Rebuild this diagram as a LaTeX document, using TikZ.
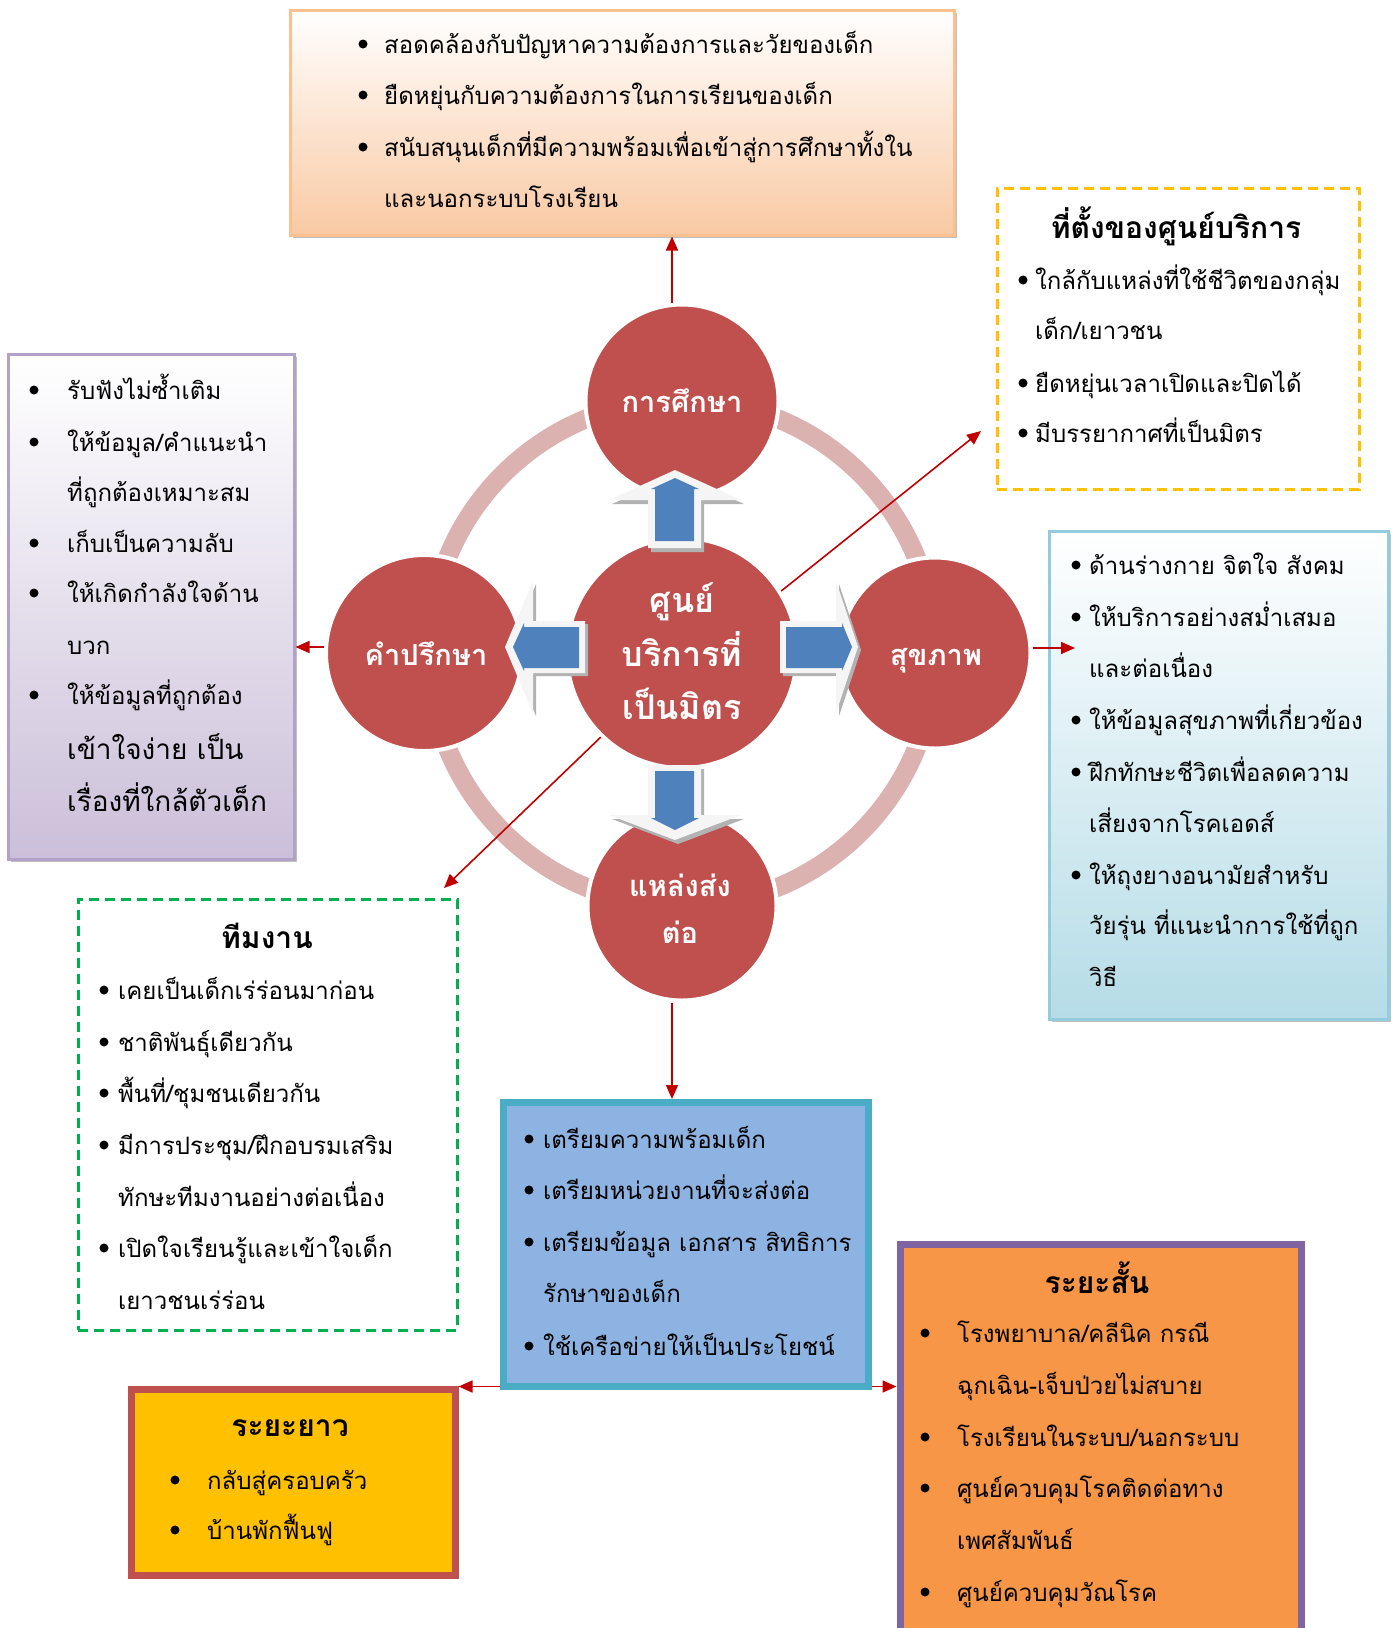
\documentclass[tikz,border=0pt]{standalone}
\usepackage{fontspec}
\newfontfamily\thai[Script=Thai]{Loma}
\usetikzlibrary{arrows.meta}
\definecolor{cred}{HTML}{C0504D}
\definecolor{ringc}{HTML}{DCB2B1}
\definecolor{barrow}{HTML}{4F81BD}
\definecolor{darr}{HTML}{C00000}
\definecolor{peach}{HTML}{F9C9A3}
\definecolor{peachb}{HTML}{FAC090}
\definecolor{lav}{HTML}{CBBFD9}
\definecolor{lavb}{HTML}{B3A2C7}
\definecolor{aqua}{HTML}{B5DCE7}
\definecolor{aquab}{HTML}{93CDDD}
\definecolor{gold}{HTML}{FFC000}
\definecolor{grn}{HTML}{00B050}
\definecolor{bfill}{HTML}{8DB3E2}
\definecolor{bbord}{HTML}{4BACC6}
\definecolor{ofill}{HTML}{F79646}
\definecolor{obord}{HTML}{8064A2}
\newcommand\bdot[2]{\fill (#1,#2) circle (4.5pt);}
\begin{document}
\begin{tikzpicture}[x=1pt,y=-1pt,
  txt/.style={font=\thai\fontsize{24}{28}\selectfont, anchor=base west, inner sep=0pt, text height=17pt, text depth=5pt},
  bigtxt/.style={font=\thai\fontsize{28}{32}\selectfont, anchor=base west, inner sep=0pt, text height=20pt, text depth=6pt},
  ttl/.style={font=\thai\bfseries\fontsize{30}{34}\selectfont, anchor=base, inner sep=0pt, text height=21pt, text depth=4pt},
  ctxt/.style={font=\thai\bfseries\fontsize{29}{33}\selectfont, text=white, anchor=base, inner sep=0pt, text height=20pt, text depth=4pt},
  bigc/.style={font=\thai\bfseries\fontsize{34}{38}\selectfont, text=white, anchor=base, inner sep=0pt, text height=24pt, text depth=6pt},
  circ/.style={circle, fill=cred, draw=white, line width=4pt, inner sep=0pt},
  boxn/.style={rectangle, anchor=north west, inner sep=0pt},
  redarr/.style={draw=darr, line width=1.6pt, -{Triangle[length=14pt,width=12pt]}},
]
\useasboundingbox (0,0) rectangle (1395,1628);
\clip (0,0) rectangle (1395,1628);
% ring
\draw[ringc, line width=19pt] (682,653) circle (253pt);
% circles
\node[circ, minimum size=193pt] (edu) at (682,401) {};
\node[circ, minimum size=196pt] (cons) at (424,653) {};
\node[circ, minimum size=191pt] (health) at (935,653) {};
\node[circ, minimum size=189pt] (refer) at (682,906) {};
\node[circ, minimum size=230pt] (ctr) at (682,653) {};
% block arrows: up
\fill[gray!60] (678,474) -- (744,504) -- (704,504) -- (704,552) -- (651,552) -- (651,504) -- (612,504) -- cycle;
\fill[gray!8] (675,470) -- (741,500) -- (701,500) -- (701,548) -- (648,548) -- (648,500) -- (609,500) -- cycle;
\fill[barrow] (675,478) -- (699,489) -- (694,489) -- (694,541) -- (655,541) -- (655,489) -- (651,489) -- cycle;
% down
\fill[gray!60] (678,844) -- (744,819) -- (704,819) -- (704,769) -- (651,769) -- (651,819) -- (612,819) -- cycle;
\fill[gray!8] (675,840) -- (741,815) -- (701,815) -- (701,765) -- (648,765) -- (648,815) -- (609,815) -- cycle;
\fill[barrow] (675,830) -- (699,818) -- (694,818) -- (694,771) -- (655,771) -- (655,818) -- (651,818) -- cycle;
% left
\fill[gray!60] (508,650) -- (536,584) -- (536,624) -- (588,624) -- (588,676) -- (536,676) -- (536,716) -- cycle;
\fill[gray!8] (505,647) -- (533,581) -- (533,621) -- (585,621) -- (585,673) -- (533,673) -- (533,713) -- cycle;
\fill[barrow] (513,647) -- (524,623) -- (524,627) -- (579,627) -- (579,668) -- (524,668) -- (524,671) -- cycle;
% right
\fill[gray!60] (861,650) -- (839,584) -- (839,624) -- (783,624) -- (783,676) -- (839,676) -- (839,716) -- cycle;
\fill[gray!8] (858,647) -- (836,581) -- (836,621) -- (780,621) -- (780,673) -- (836,673) -- (836,713) -- cycle;
\fill[barrow] (852,647) -- (842,623) -- (842,627) -- (786,627) -- (786,668) -- (842,668) -- (842,671) -- cycle;
% circle texts
\node[ctxt] (edut) at (682,412) {การศึกษา};
\node[ctxt] (const) at (426,665) {คำปรึกษา};
\node[ctxt] (healtht) at (936,665) {สุขภาพ};
\node[ctxt] (refert1) at (680,896) {แหล่งส่ง};
\node[ctxt] (refert2) at (680,943) {ต่อ};
\node[bigc] (ctrt1) at (682,612) {ศูนย์};
\node[bigc] (ctrt2) at (682,666) {บริการที่};
\node[bigc] (ctrt3) at (682,719) {เป็นมิตร};
% shadows
\fill[gray!50] (293,13) rectangle (957,238);
\fill[gray!50] (11,357) rectangle (297,862);
\fill[gray!50] (1052,534) rectangle (1391,1022);
% boxes
\node[boxn, minimum width=664pt, minimum height=225pt, draw=peachb, line width=2.5pt, top color=white, bottom color=peach] (topbox) at (289,9) {};
\node[boxn, minimum width=362pt, minimum height=301pt, draw=gold, line width=2.5pt, dash pattern=on 10pt off 6pt] (locbox) at (996,187) {};
\node[boxn, minimum width=286pt, minimum height=505pt, draw=lavb, line width=2.5pt, top color=white, bottom color=lav] (lbox) at (7,353) {};
\node[boxn, minimum width=339pt, minimum height=488pt, draw=aquab, line width=2.5pt, top color=white, bottom color=aqua] (rbox) at (1048,530) {};
\node[boxn, minimum width=379pt, minimum height=431pt, draw=grn, line width=2.5pt, dash pattern=on 10pt off 6pt] (team) at (77,898) {};
\node[boxn, minimum width=365pt, minimum height=284pt, draw=bbord, fill=bfill, line width=7pt] (bbox) at (499.5,1099) {};
\node[boxn, minimum width=324pt, minimum height=186pt, draw=cred, fill=gold, line width=7pt] (longbox) at (127.5,1385.5) {};
\node[boxn, minimum width=401pt, minimum height=420pt, draw=obord, fill=ofill, line width=7pt] (shortbox) at (896.5,1240.5) {};
% red connectors
\coordinate (locp) at (981,431);
\coordinate (teamp) at (444,888);
\coordinate (hp) at (1075,648);
\draw[redarr] ([xshift=-10pt]edu.north) -- ([xshift=-10pt]edu.north |- topbox.south);
\draw[redarr] (ctr.32) -- (locp);
\draw[redarr] (ctr.226) -- (teamp);
\draw[redarr] ([yshift=6pt]cons.west) -- ([yshift=6pt]cons.west -| lbox.east);
\draw[redarr] ([yshift=5pt]health.east) -- (hp);
\draw[redarr] ([xshift=-10pt]refer.south) -- ([xshift=-10pt]refer.south |- bbox.north);
\draw[redarr] ([yshift=3.5pt]bbox.south west) -- ([yshift=3.5pt]bbox.south west -| longbox.east);
\draw[redarr] ([yshift=3.5pt]bbox.south east) -- ([yshift=3.5pt]bbox.south east -| shortbox.west);
% top box text
\bdot{363}{44}\node[txt] (tb1) at (384,53) {สอดคล้องกับปัญหาความต้องการและวัยของเด็ก};
\bdot{363}{95}\node[txt] (tb2) at (384,104) {ยืดหยุ่นกับความต้องการในการเรียนของเด็ก};
\bdot{363}{147}\node[txt] (tb3) at (384,156) {สนับสนุนเด็กที่มีความพร้อมเพื่อเข้าสู่การศึกษาทั้งใน};
\node[txt] (tb4) at (384,207) {และนอกระบบโรงเรียน};
% location box
\node[ttl] (loct) at (1176,238) {ที่ตั้งของศูนย์บริการ};
\bdot{1023}{280}\node[txt] (lc1) at (1035,289) {ใกล้กับแหล่งที่ใช้ชีวิตของกลุ่ม};
\node[txt] (lc2) at (1035,339) {เด็ก/เยาวชน};
\bdot{1023}{383}\node[txt] (lc3) at (1035,392) {ยืดหยุ่นเวลาเปิดและปิดได้};
\bdot{1023}{433}\node[txt] (lc4) at (1035,442) {มีบรรยากาศที่เป็นมิตร};
% left box
\bdot{34}{390}\node[txt] (lb1) at (67,399) {รับฟังไม่ซ้ำเติม};
\bdot{34}{442}\node[txt] (lb2) at (67,451) {ให้ข้อมูล/คำแนะนำ};
\node[txt] (lb3) at (67,501) {ที่ถูกต้องเหมาะสม};
\bdot{34}{543}\node[txt] (lb4) at (67,552) {เก็บเป็นความลับ};
\bdot{34}{593}\node[txt] (lb5) at (67,602) {ให้เกิดกำลังใจด้าน};
\node[txt] (lb6) at (67,654) {บวก};
\bdot{34}{695}\node[txt] (lb7) at (67,704) {ให้ข้อมูลที่ถูกต้อง};
\node[bigtxt] (lb8) at (67,759) {เข้าใจง่าย เป็น};
\node[bigtxt] (lb9) at (67,811) {เรื่องที่ใกล้ตัวเด็ก};
% right box
\bdot{1076}{565}\node[txt] (rb1) at (1089,574) {ด้านร่างกาย จิตใจ สังคม};
\bdot{1076}{617}\node[txt] (rb2) at (1089,626) {ให้บริการอย่างสม่ำเสมอ};
\node[txt] (rb3) at (1089,677) {และต่อเนื่อง};
\bdot{1076}{720}\node[txt] (rb4) at (1089,729) {ให้ข้อมูลสุขภาพที่เกี่ยวข้อง};
\bdot{1076}{772}\node[txt] (rb5) at (1089,781) {ฝึกทักษะชีวิตเพื่อลดความ};
\node[txt] (rb6) at (1089,832) {เสี่ยงจากโรคเอดส์};
\bdot{1076}{875}\node[txt] (rb7) at (1089,884) {ให้ถุงยางอนามัยสำหรับ};
\node[txt] (rb8) at (1089,934) {วัยรุ่น ที่แนะนำการใช้ที่ถูก};
\node[txt] (rb9) at (1089,986) {วิธี};
% team box
\node[ttl] (teamt) at (267,948) {ทีมงาน};
\bdot{104}{990}\node[txt] (tm1) at (118,999) {เคยเป็นเด็กเร่ร่อนมาก่อน};
\bdot{104}{1042}\node[txt] (tm2) at (118,1051) {ชาติพันธุ์เดียวกัน};
\bdot{104}{1093}\node[txt] (tm3) at (118,1102) {พื้นที่/ชุมชนเดียวกัน};
\bdot{104}{1145}\node[txt] (tm4) at (118,1154) {มีการประชุม/ฝึกอบรมเสริม};
\node[txt] (tm5) at (118,1206) {ทักษะทีมงานอย่างต่อเนื่อง};
\bdot{104}{1248}\node[txt] (tm6) at (118,1257) {เปิดใจเรียนรู้และเข้าใจเด็ก};
\node[txt] (tm7) at (118,1309) {เยาวชนเร่ร่อน};
% blue box
\bdot{529}{1139}\node[txt] (bb1) at (543,1148) {เตรียมความพร้อมเด็ก};
\bdot{529}{1190}\node[txt] (bb2) at (543,1199) {เตรียมหน่วยงานที่จะส่งต่อ};
\bdot{529}{1242}\node[txt] (bb3) at (543,1251) {เตรียมข้อมูล เอกสาร สิทธิการ};
\node[txt] (bb4) at (543,1302) {รักษาของเด็ก};
\bdot{529}{1346}\node[txt] (bb5) at (543,1355) {ใช้เครือข่ายให้เป็นประโยชน์};
% long box
\node[ttl] (longt) at (290,1436) {ระยะยาว};
\bdot{175}{1480}\node[txt] (lg1) at (207,1489) {กลับสู่ครอบครัว};
\bdot{175}{1530}\node[txt] (lg2) at (207,1539) {บ้านพักฟื้นฟู};
% short box
\node[ttl] (shortt) at (1097,1293) {ระยะสั้น};
\bdot{925}{1333}\node[txt] (sh1) at (957,1342) {โรงพยาบาล/คลีนิค กรณี};
\node[txt] (sh2) at (957,1394) {ฉุกเฉิน-เจ็บป่วยไม่สบาย};
\bdot{925}{1437}\node[txt] (sh3) at (957,1446) {โรงเรียนในระบบ/นอกระบบ};
\bdot{925}{1488}\node[txt] (sh4) at (957,1497) {ศูนย์ควบคุมโรคติดต่อทาง};
\node[txt] (sh5) at (957,1549) {เพศสัมพันธ์};
\bdot{925}{1592}\node[txt] (sh6) at (957,1601) {ศูนย์ควบคุมวัณโรค};
\end{tikzpicture}
\end{document}
